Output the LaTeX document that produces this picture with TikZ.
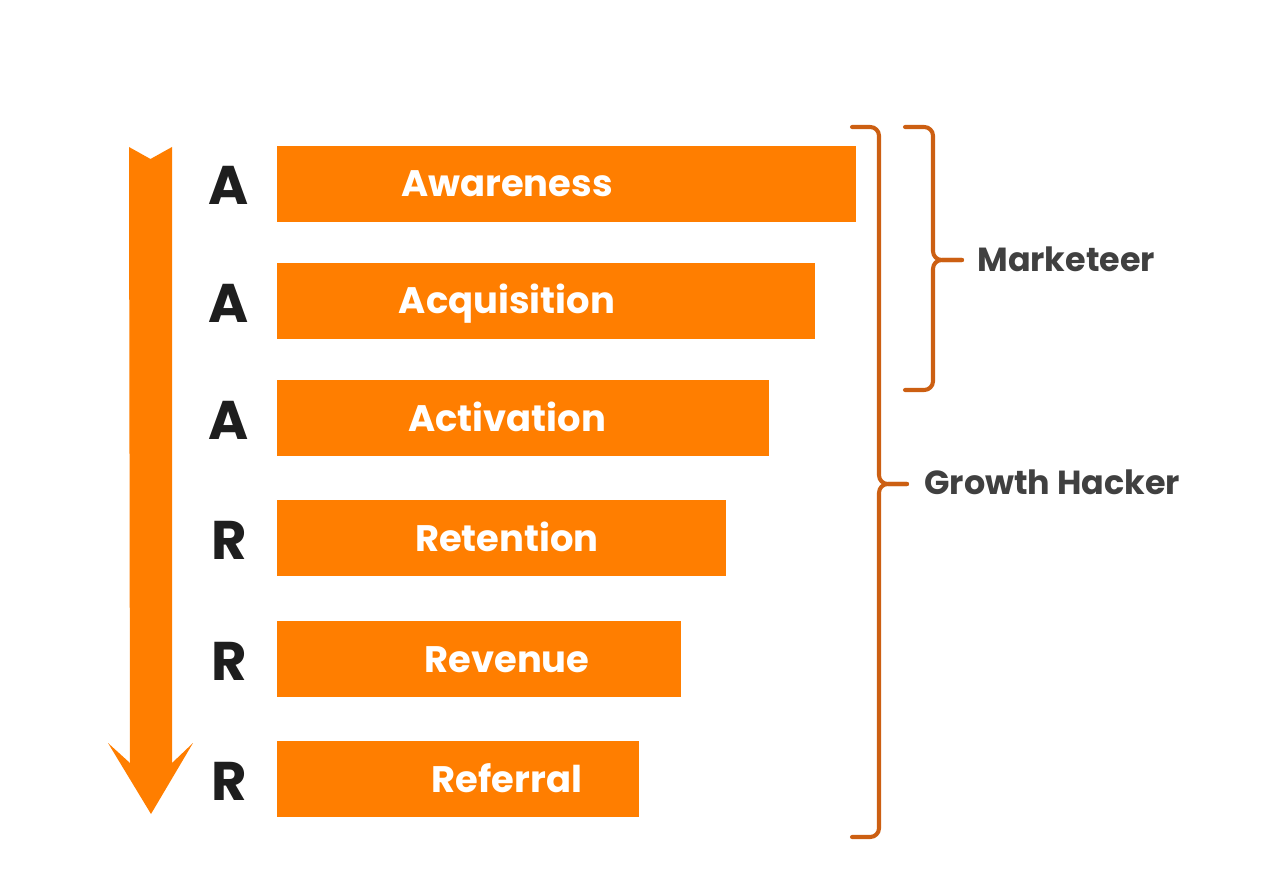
\documentclass[tikz,border=0pt]{standalone}
\usepackage{fontspec}
\setmainfont{Poppins}
\definecolor{funnelorange}{HTML}{FF7E00}
\definecolor{braceorange}{HTML}{CC5F12}
\definecolor{labelgray}{HTML}{404040}
\definecolor{lettergray}{HTML}{1E1E1E}
\begin{document}
\begin{tikzpicture}[x=0.02cm, y=-0.02cm, line join=round, line cap=round,
		bar/.style={fill=funnelorange, inner sep=0pt, minimum height=1.52cm, anchor=north west},
		barlabel/.style={text=white, font=\fontsize{21}{25}\selectfont\bfseries, anchor=base, inner sep=0pt},
		letter/.style={text=lettergray, font=\fontsize{31}{36}\selectfont\bfseries, anchor=base, inner sep=0pt},
		role/.style={text=labelgray, font=\fontsize{19}{22}\selectfont\bfseries, anchor=base west, inner sep=0pt},
		bracket/.style={draw=braceorange, line width=2.3pt, rounded corners=5pt}]
	\useasboundingbox (0,0) rectangle (1280,878);
	% funnel arrow
	\fill[funnelorange] (129,147) -- (150.5,159) -- (172,147) -- (172,763) -- (193,743) -- (151,814)
		-- (108,743) -- (130,763) -- cycle;
	% stages
	\foreach \name/\txt/\ltr/\top/\right in {awareness/Awareness/A/146/856, acquisition/Acquisition/A/263/815,
			activation/Activation/A/380/769, retention/Retention/R/500/726,
			revenue/Revenue/R/621/681, referral/Referral/R/741/639}{
		\node[bar, minimum width={(\right-277)*0.02cm}] (\name) at (277,\top) {};
		\node[barlabel] (\name-txt) at (507,\top+51) {\txt};
		\node[letter] (\name-ltr) at (229,\top+59) {\ltr};
	}
	% braces
	\draw[bracket] (852,127) -- (879,127) -- (879,484) -- (907,484);
	\draw[bracket] (907,484) -- (879,484) -- (879,837) -- (852,837);
	\draw[bracket] (905,127) -- (933,127) -- (933,260) -- (962,260);
	\draw[bracket] (962,260) -- (933,260) -- (933,390) -- (905,390);
	\node[role] (marketeer) at (977,272) {Marketeer};
	\node[role] (growth) at (924,494) {Growth Hacker};
\end{tikzpicture}
\end{document}
